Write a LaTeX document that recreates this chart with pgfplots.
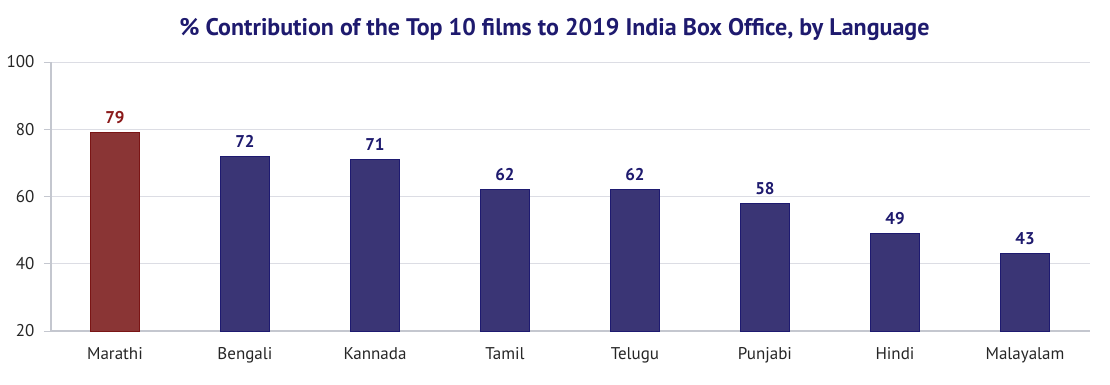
\documentclass[border=0pt]{standalone}
\usepackage{pgfplots}
\pgfplotsset{compat=1.18}
\usepackage{fontspec}
\setmainfont{PT Sans}
\definecolor{navybar}{HTML}{3A3575}
\definecolor{navyedge}{HTML}{1E1A70}
\definecolor{redbar}{HTML}{8A3535}
\definecolor{rededge}{HTML}{7A1515}
\definecolor{redlab}{HTML}{8B1A1A}
\definecolor{navylab}{HTML}{1E1A6E}
\definecolor{gridc}{HTML}{DCDDE4}
\definecolor{axisc}{HTML}{C4C7CF}
\begin{document}
\begin{tikzpicture}[x=1pt,y=1pt]
\begin{axis}[
  at={(0,0)}, anchor=south west,
  scale only axis,
  width=1039pt, height=269pt,
  xmin=-0.492, xmax=7.5,
  ymin=20, ymax=100,
  ytick={20,40,60,80,100},
  xtick={0,1,2,3,4,5,6,7},
  xticklabels={Marathi,Bengali,Kannada,Tamil,Telugu,Punjabi,Hindi,Malayalam},
  axis x line*=bottom, axis y line*=left,
  axis line style={axisc, line width=1.2pt, -},
  ymajorgrids, grid style={gridc, line width=1pt},
  xtick style={draw=none},
  ytick style={axisc, line width=1pt},
  tick align=outside, major tick length=7pt,
  ticklabel style={font=\fontsize{17}{19}\selectfont, text=black!85},
  /pgf/number format/assume math mode=true,
  xticklabel style={yshift=-6pt},
  yticklabel style={xshift=-6pt},
  ybar, bar width=49pt, bar shift=0pt,
  nodes near coords,
  every node near coord/.append style={font=\fontsize{17}{19}\selectfont\bfseries, yshift=5pt},
  clip=false,
  title={\fontsize{24}{27}\selectfont\bfseries\% Contribution of the Top 10 films to 2019 India Box Office, by Language},
  title style={text=navylab, at={(0.5,1)}, anchor=south, yshift=12pt, xshift=-16pt},
]
\addplot[fill=redbar, draw=rededge, line width=0.8pt, every node near coord/.append style={text=redlab}] coordinates {(0,79)};
\addplot[fill=navybar, draw=navyedge, line width=0.8pt, every node near coord/.append style={text=navylab}] coordinates {(1,72) (2,71) (3,62) (4,62) (5,58) (6,49) (7,43)};
\end{axis}
\pgfresetboundingbox
\path[use as bounding box] (-51pt,-53pt) rectangle (1059pt,331pt);
\end{tikzpicture}
\end{document}
